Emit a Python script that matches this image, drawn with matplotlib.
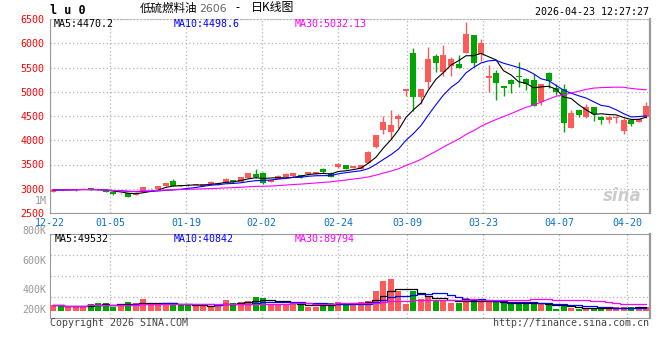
import matplotlib
matplotlib.use('Agg')
import matplotlib.pyplot as plt
import pandas as pd

# daily K data, 2025-12-22 .. 2026-04-23 (80 sessions)
opens = [2935, 2990, 2975, 2965, 2990, 3010, 2985, 2950, 2930, 2905,
         2905, 2875, 2955, 3010, 3000, 3065, 3165, 3080, 3085, 3078,
         3063, 3091, 3077, 3125, 3180, 3146, 3228, 3304, 3331, 3146,
         3201, 3249, 3269, 3276, 3297, 3311, 3407, 3331, 3441, 3482,
         3435, 3407, 3538, 3868, 4211, 4163, 4438, 5015, 5799, 4899,
         5208, 5737, 5400, 5538, 5572, 5806, 6170, 5771, 5290, 5380,
         5120, 5242, 5332, 5263, 5240, 4795, 5393, 5080, 5050, 4259,
         4624, 4486, 4679, 4486, 4418, 4466, 4191, 4418, 4383, 4472]
closes = [2975, 2975, 2985, 2985, 3000, 2975, 2970, 2930, 2885, 2915,
          2840, 2920, 3030, 3015, 3060, 3110, 3065, 3060, 3070, 3090,
          3091, 3146, 3125, 3208, 3132, 3235, 3318, 3249, 3125, 3180,
          3269, 3297, 3318, 3235, 3345, 3345, 3338, 3249, 3503, 3414,
          3469, 3490, 3765, 4108, 4369, 4314, 4500, 5057, 4899, 5057,
          5675, 5600, 5757, 5668, 5497, 6191, 5600, 5998, 5325, 5174,
          5070, 5165, 5297, 5165, 4713, 5160, 5229, 5000, 4349, 4569,
          4520, 4692, 4534, 4418, 4486, 4486, 4418, 4335, 4431, 4706]
highs = [2985, 3000, 2995, 2995, 3020, 3015, 2995, 2955, 2935, 2920,
         2910, 2925, 3035, 3025, 3065, 3115, 3195, 3085, 3090, 3095,
         3100, 3150, 3130, 3228, 3185, 3240, 3325, 3407, 3352, 3190,
         3275, 3331, 3325, 3283, 3352, 3352, 3435, 3338, 3524, 3490,
         3475, 3495, 3770, 4115, 4500, 4617, 4548, 5060, 5902, 5060,
         5923, 5786, 5964, 5716, 5757, 6445, 6175, 6088, 5551, 5448,
         5125, 5263, 5610, 5280, 5360, 5165, 5400, 5150, 5153, 4624,
         4624, 4747, 4692, 4490, 4490, 4490, 4466, 4420, 4445, 4789]
lows = [2925, 2965, 2970, 2960, 2985, 2970, 2965, 2925, 2880, 2900,
        2835, 2870, 2950, 3000, 2995, 3060, 3060, 3055, 3065, 3075,
        3060, 3085, 3070, 3120, 3125, 3140, 3220, 3215, 3098, 3140,
        3195, 3235, 3262, 3228, 3290, 3305, 3330, 3240, 3435, 3405,
        3430, 3400, 3530, 3833, 4122, 4026, 4246, 4919, 4610, 4747,
        5084, 5414, 5331, 5331, 5483, 5806, 5517, 5641, 5002, 4830,
        4919, 4967, 5105, 5036, 4705, 4727, 5070, 4930, 4177, 4259,
        4472, 4452, 4397, 4335, 4363, 4363, 4129, 4301, 4375, 4452]
volumes = [75, 66, 62, 62, 62, 88, 100, 100, 54, 88,
           112, 100, 150, 71, 71, 100, 100, 71, 71, 62,
           62, 62, 88, 138, 100, 112, 125, 175, 162, 88,
           88, 88, 88, 71, 54, 54, 100, 96, 112, 96,
           96, 112, 125, 250, 375, 400, 250, 88, 254, 154,
           175, 125, 125, 104, 104, 166, 138, 112, 112, 112,
           96, 96, 96, 96, 96, 96, 71, 29, 62, 38,
           30, 31, 35, 33, 31, 44, 52, 47, 50, 55]
volumes = [v * 1000 for v in volumes]

date_labels = ['12-22', '01-05', '01-19', '02-02', '02-24', '03-09', '03-23', '04-07', '04-20']
date_pos = [-0.4, 7.6, 17.7, 27.8, 38.0, 47.2, 57.3, 67.4, 76.5]

UP = '#ff5a5a'
DOWN = '#00a600'
GRID = '#b4b4b4'
MONO = 'DejaVu Sans Mono'
CJK = ['Noto Sans CJK SC', 'DejaVu Sans']

n = len(closes)
idx = list(range(n))
cols = [UP if c >= o else DOWN for o, c in zip(opens, closes)]

cs = pd.Series(closes, dtype=float)
ma5 = cs.rolling(5, min_periods=1).mean()
ma10 = cs.rolling(10, min_periods=1).mean()
ma30 = cs.rolling(30, min_periods=1).mean()
vs = pd.Series(volumes, dtype=float)
vma5 = vs.rolling(5, min_periods=1).mean()
vma10 = vs.rolling(10, min_periods=1).mean()
vma30 = vs.rolling(30, min_periods=1).mean()

W, H = 660, 360
fig = plt.figure(figsize=(6.6, 3.6), dpi=100)
ax = fig.add_axes([50 / W, 1 - 213 / H, 600 / W, 194 / H])
axv = fig.add_axes([50 / W, 1 - 318 / H, 600 / W, 84 / H])

def px(x, y):
    return x / W, 1 - y / H

# --- price panel
body = [max(abs(c - o), 10) for o, c in zip(opens, closes)]
bottoms = [min(o, c) for o, c in zip(opens, closes)]
ax.vlines(idx, lows, highs, colors=cols, linewidth=1, zorder=3)
ax.bar(idx, body, bottom=bottoms, width=0.8, color=cols, linewidth=0, zorder=3)
ax.plot(idx, ma5, color='black', lw=0.8, zorder=4)
ax.plot(idx, ma10, color='#0000ff', lw=0.8, zorder=4)
ax.plot(idx, ma30, color='#ff00ff', lw=0.8, zorder=4)

ax.set_xlim(-0.4, 79.5)
ax.set_ylim(2500, 6500)
ax.set_yticks(range(2500, 6501, 500))
ax.set_xticks(date_pos)
ax.set_xticklabels(date_labels)
ax.tick_params(axis='y', length=0, pad=4, labelcolor='#ff0000', labelsize=7.2)
ax.tick_params(axis='x', length=0, pad=3.5, labelcolor='#0a72c8', labelsize=7.2)
for lab in ax.get_xticklabels() + ax.get_yticklabels():
    lab.set_family(MONO)
ax.grid(True, color=GRID, linestyle=(0, (1, 2)), linewidth=0.9)
ax.set_axisbelow(True)
for s in ['left', 'bottom']:
    ax.spines[s].set_color('#999999')
ax.spines['right'].set_color('#999999')
ax.spines['right'].set_linewidth(1.6)
ax.spines['top'].set_color(GRID)
ax.spines['top'].set_linestyle((0, (1, 2)))

# --- volume panel
axv.bar(idx, volumes, width=0.8, color=cols, linewidth=0, zorder=3)
axv.plot(idx, vma5, color='black', lw=0.9, drawstyle='steps-mid', zorder=4)
axv.plot(idx, vma10, color='#0000ff', lw=0.9, drawstyle='steps-mid', zorder=4)
axv.plot(idx, vma30, color='#ff00ff', lw=0.9, drawstyle='steps-mid', zorder=4)
vlo, vhi = -87500, 962500
axv.set_xlim(-0.4, 79.5)
axv.set_ylim(vlo, vhi)
axv.set_xticks(date_pos[1:])
axv.set_yticks([vlo + k * (vhi - vlo) / 4 for k in (1, 2, 3)])
axv.tick_params(length=0, labelbottom=False, labelleft=False)
axv.grid(True, color=GRID, linestyle=(0, (1, 2)), linewidth=0.9)
axv.set_axisbelow(True)
for s in axv.spines.values():
    s.set_color('#999999')
axv.spines['right'].set_linewidth(1.6)

# volume axis labels as drawn by the source chart
for lab, y in [('1M', 201), ('800K', 231), ('600K', 261), ('400K', 290), ('200K', 310)]:
    fig.text(*px(46.5, y), lab, ha='right', va='center', color='#999999',
             fontsize=7.2, family=MONO)

# --- header and legends
fig.text(*px(50, 10), 'l u 0', ha='left', va='center', fontsize=8.5,
         fontweight='bold', family=MONO)
fig.text(*px(140, 8), '低硫燃料油', ha='left', va='center', fontsize=8.3, family=CJK)
fig.text(*px(199, 9), '2606', ha='left', va='center', fontsize=7.8,
         color='#666666', family='DejaVu Sans')
fig.text(*px(235, 8), '-', ha='left', va='center', fontsize=8.3, family=CJK)
fig.text(*px(251, 8), '日K线图', ha='left', va='center', fontsize=8.6, family=CJK)
fig.text(*px(649, 12), '2026-04-23 12:27:27', ha='right', va='center',
         fontsize=7.2, family=MONO)

for lab, x, c in [('MA5:4470.2', 54, 'black'), ('MA10:4498.6', 174, '#0000ff'),
                  ('MA30:5032.13', 295, '#ff00ff')]:
    fig.text(*px(x, 24), lab, ha='left', va='center', color=c, fontsize=7.2, family=MONO)
for lab, x, c in [('MA5:49532', 55, 'black'), ('MA10:40842', 174, '#0000ff'),
                  ('MA30:89794', 295, '#ff00ff')]:
    fig.text(*px(x, 239), lab, ha='left', va='center', color=c, fontsize=7.2, family=MONO)

fig.text(*px(622, 196), 'sina', ha='center', va='center', color='#cccccc',
         fontsize=12, fontstyle='italic', fontweight='bold')
fig.text(*px(50, 323), 'Copyright 2026 SINA.COM', ha='left', va='center',
         color='#444444', fontsize=7.2, family=MONO)
fig.text(*px(649, 323), 'http://finance.sina.com.cn', ha='right', va='center',
         color='#444444', fontsize=7.2, family=MONO)

fig.savefig('out.png', dpi=100)
